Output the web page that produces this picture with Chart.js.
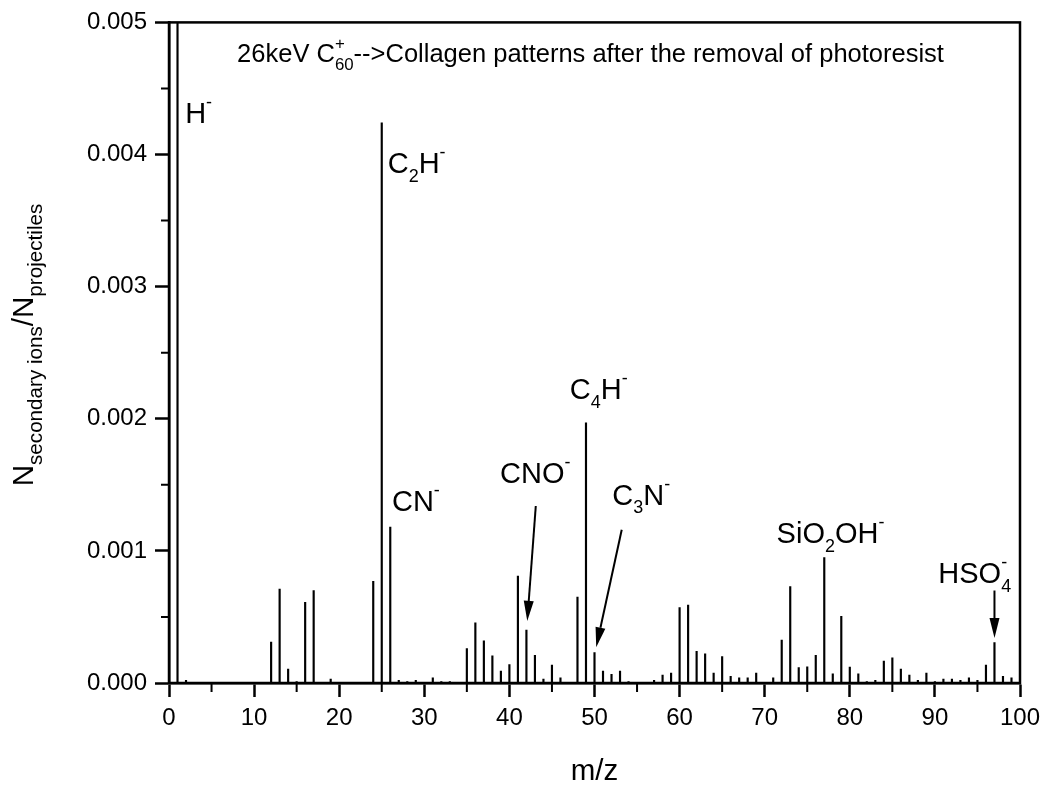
<!DOCTYPE html>
<html>
<head>
<meta charset="utf-8">
<script src="https://cdn.jsdelivr.net/npm/chart.js@4.4.1/dist/chart.umd.min.js"></script>
<style>
  html, body { margin: 0; padding: 0; background: #fff; }
  canvas { display: block; }
</style>
</head>
<body>
<canvas id="spectrum" width="1050" height="795"></canvas>
<script>
// m/z of each peak and its yield (N secondary ions / N projectiles)
const masses = [1, 2, 12, 13, 14, 15, 16, 17, 19, 24, 25, 26, 27, 28, 29, 31, 32, 33,
	35, 36, 37, 38, 39, 40, 41, 42, 43, 44, 45, 46, 48, 49, 50, 51, 52, 53, 54,
	57, 58, 59, 60, 61, 62, 63, 64, 65, 66, 67, 68, 69, 71, 72, 73, 74, 75, 76,
	77, 78, 79, 80, 81, 82, 83, 84, 85, 86, 87, 88, 89, 90, 91, 92, 93, 94, 95,
	96, 97, 98, 99];
const yields = [0.0062, 0.00002, 0.00031, 0.00071, 0.000105, 0.00001, 0.00061, 0.0007, 0.00003,
	0.00077, 0.00424, 0.00118, 0.00002, 0.00001, 0.00002, 0.00004, 0.00001, 0.00001,
	0.00026, 0.000455, 0.00032, 0.000205, 0.00009, 0.00014, 0.00081, 0.0004, 0.00021,
	0.00003, 0.000135, 0.00004, 0.00065, 0.00197, 0.00023, 0.00009, 0.000065, 0.00009, 0.00001,
	0.00002, 0.00006, 0.000075, 0.00057, 0.00059, 0.00024, 0.00022, 0.000075, 0.0002,
	0.00005, 0.00004, 0.00004, 0.000075, 0.00004, 0.000325, 0.00073, 0.000117, 0.000122,
	0.00021, 0.00095, 0.00007, 0.000505, 0.00012, 0.00007, 0.00001, 0.00002, 0.000165,
	0.00019, 0.000105, 0.00006, 0.00002, 0.000075, 0.00001, 0.00003, 0.00003, 0.00002,
	0.00004, 0.00002, 0.000135, 0.000305, 0.00005, 0.00004];

const xTicks = [0, 10, 20, 30, 40, 50, 60, 70, 80, 90, 100];
const yTicks = [0, 0.001, 0.002, 0.003, 0.004, 0.005];

// peak labels, _{} = subscript, ^{} = superscript
const ionNames = ['H^{-}', 'C_{2}H^{-}', 'CN^{-}', 'CNO^{-}', 'C_{4}H^{-}', 'C_{3}N^{-}', 'SiO_{2}OH^{-}', 'HSO_{4}^{-}'];
const ionLabelAt = [[1.9, 0.00424], [25.7, 0.00386], [26.2, 0.0013], [38.9, 0.00151],
	[47.1, 0.00215], [52.1, 0.00135], [71.4, 0.00106], [90.4, 0.000757]];
const arrows = [
	{ from: [43.1, 0.00134], to: [42.1, 0.00047] },
	{ from: [53.2, 0.00116], to: [50.2, 0.00027] },
	{ from: [97, 0.0007], to: [97, 0.00034] }
];

const titleText = '26keV C_{60}^{+}-->Collagen patterns after the removal of photoresist';
const yTitle = 'N_{secondary ions}/N_{projectiles}';
const xTitle = 'm/z';

const FONT = '"Liberation Sans", Arial, Helvetica, sans-serif';

function parseRich(s) {
	const out = [];
	let i = 0;
	while (i < s.length) {
		const c = s[i];
		if ((c === '_' || c === '^') && s[i + 1] === '{') {
			const j = s.indexOf('}', i);
			const kind = c === '_' ? 'sub' : 'sup';
			const t = s.slice(i + 2, j);
			const prev = out[out.length - 1];
			if (prev && prev.kind !== 'n' && prev.kind !== kind && !prev.pair) {
				prev.pair = { kind: kind, t: t };
			} else {
				out.push({ kind: kind, t: t });
			}
			i = j + 1;
		} else {
			let j = i;
			while (j < s.length && !((s[j] === '_' || s[j] === '^') && s[j + 1] === '{')) j++;
			out.push({ kind: 'n', t: s.slice(i, j) });
			i = j;
		}
	}
	return out;
}

function drawRich(ctx, s, x, y, size, align, smallScale) {
	const segs = parseRich(s);
	const small = size * (smallScale || 0.62);
	const offset = { n: 0, sub: size * 0.3, sup: -size * 0.52 };
	const widthOf = (t, kind) => {
		ctx.font = (kind === 'n' ? size : small) + 'px ' + FONT;
		return ctx.measureText(t).width;
	};
	let total = 0;
	segs.forEach(sg => {
		let w = widthOf(sg.t, sg.kind);
		if (sg.pair) w = Math.max(w, widthOf(sg.pair.t, sg.pair.kind));
		sg.w = w;
		total += w;
	});
	let cx = align === 'center' ? x - total / 2 : x;
	ctx.textAlign = 'left';
	ctx.textBaseline = 'alphabetic';
	ctx.fillStyle = '#000';
	segs.forEach(sg => {
		ctx.font = (sg.kind === 'n' ? size : small) + 'px ' + FONT;
		ctx.fillText(sg.t, cx, y + offset[sg.kind]);
		if (sg.pair) {
			ctx.font = small + 'px ' + FONT;
			ctx.fillText(sg.pair.t, cx, y + offset[sg.pair.kind]);
		}
		cx += sg.w;
	});
}

const decorations = {
	id: 'decorations',
	afterDraw(chart) {
		const ctx = chart.ctx;
		const xs = chart.scales.x;
		const ys = chart.scales.y;
		const area = chart.chartArea;
		ctx.save();

		// frame
		ctx.strokeStyle = '#000';
		ctx.lineWidth = 2.5;
		ctx.strokeRect(area.left, area.top, area.right - area.left, area.bottom - area.top);

		// minor ticks
		ctx.lineWidth = 2;
		ctx.beginPath();
		for (let i = 0; i < xTicks.length - 1; i++) {
			const px = xs.getPixelForValue((xTicks[i] + xTicks[i + 1]) / 2);
			ctx.moveTo(px, area.bottom);
			ctx.lineTo(px, area.bottom + 9);
		}
		for (let i = 0; i < yTicks.length - 1; i++) {
			const py = ys.getPixelForValue((yTicks[i] + yTicks[i + 1]) / 2);
			ctx.moveTo(area.left, py);
			ctx.lineTo(area.left - 8, py);
		}
		ctx.stroke();

		// arrows
		ctx.lineWidth = 2;
		arrows.forEach(a => {
			const x1 = xs.getPixelForValue(a.from[0]), y1 = ys.getPixelForValue(a.from[1]);
			const x2 = xs.getPixelForValue(a.to[0]), y2 = ys.getPixelForValue(a.to[1]);
			const ang = Math.atan2(y2 - y1, x2 - x1);
			const len = 20, half = 5;
			const bx = x2 - len * Math.cos(ang), by = y2 - len * Math.sin(ang);
			ctx.beginPath();
			ctx.moveTo(x1, y1);
			ctx.lineTo(bx, by);
			ctx.stroke();
			ctx.beginPath();
			ctx.moveTo(x2, y2);
			ctx.lineTo(bx + half * Math.sin(ang), by - half * Math.cos(ang));
			ctx.lineTo(bx - half * Math.sin(ang), by + half * Math.cos(ang));
			ctx.closePath();
			ctx.fillStyle = '#000';
			ctx.fill();
		});

		// ion labels
		ionNames.forEach((name, i) => {
			drawRich(ctx, name, xs.getPixelForValue(ionLabelAt[i][0]), ys.getPixelForValue(ionLabelAt[i][1]), 29, 'left');
		});

		// title inside plot
		drawRich(ctx, titleText, xs.getPixelForValue(8.0), ys.getPixelForValue(0.0047), 25.5, 'left', 0.66);

		// axis titles
		drawRich(ctx, xTitle, (area.left + area.right) / 2, 780, 29.5, 'center');
		ctx.save();
		ctx.translate(33, 345);
		ctx.rotate(-Math.PI / 2);
		drawRich(ctx, yTitle, 0, 0, 29.5, 'center', 0.7);
		ctx.restore();

		ctx.restore();
	}
};

Chart.defaults.font.family = FONT;
Chart.defaults.color = '#000';

new Chart(document.getElementById('spectrum'), {
	type: 'bar',
	data: {
		datasets: [{
			data: masses.map((m, i) => ({ x: m, y: yields[i] })),
			backgroundColor: '#000',
			borderWidth: 0,
			barThickness: 1.5
		}]
	},
	options: {
		responsive: false,
		animation: false,
		layout: { padding: { top: 16, right: 30, left: 0, bottom: 0 } },
		plugins: {
			legend: { display: false },
			tooltip: { enabled: false },
			title: { display: false }
		},
		scales: {
			x: {
				type: 'linear',
				min: 0,
				max: 100,
				offset: false,
				afterBuildTicks: s => { s.ticks = xTicks.map(v => ({ value: v })); },
				afterFit: s => { s.height = 112; },
				grid: {
					offset: false,
					drawOnChartArea: false,
					drawTicks: true,
					tickLength: 14,
					tickWidth: 2.5,
					tickColor: '#000'
				},
				border: { display: true, color: '#000', width: 2.5 },
				ticks: {
					padding: 7,
					maxRotation: 0,
					font: { size: 24 },
					color: '#000',
					callback: v => String(v)
				}
			},
			y: {
				min: 0,
				max: 0.005,
				afterBuildTicks: s => { s.ticks = yTicks.map(v => ({ value: v })); },
				afterFit: s => { s.width = 169; },
				grid: {
					drawOnChartArea: false,
					drawTicks: true,
					tickLength: 14,
					tickWidth: 2.5,
					tickColor: '#000'
				},
				border: { display: true, color: '#000', width: 2.5 },
				ticks: {
					padding: 8,
					font: { size: 24 },
					color: '#000',
					callback: v => v.toFixed(3)
				}
			}
		}
	},
	plugins: [decorations]
});
</script>
</body>
</html>
